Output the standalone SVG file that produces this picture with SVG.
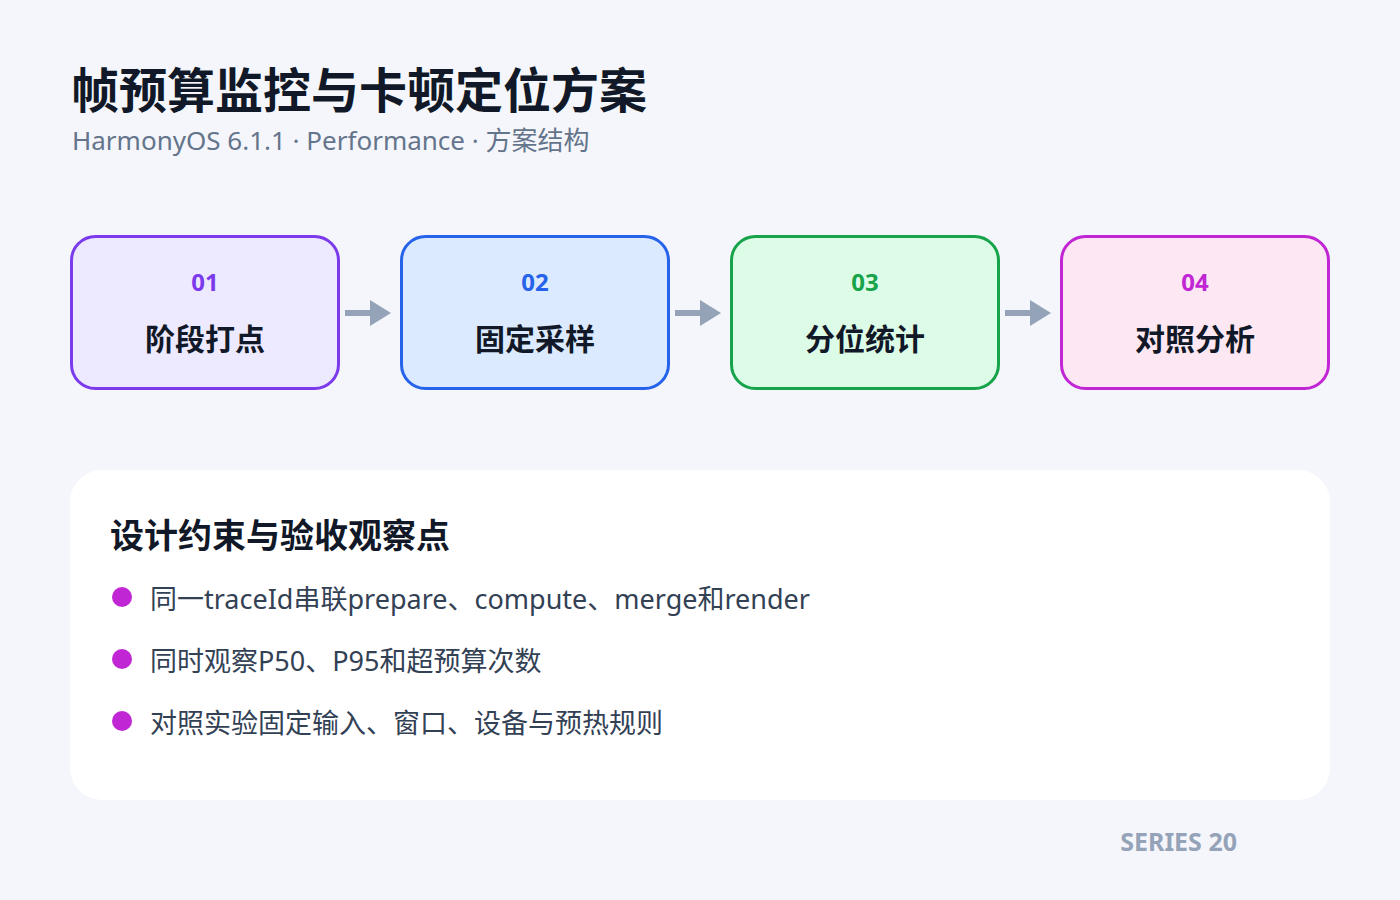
<svg xmlns="http://www.w3.org/2000/svg" width="1400" height="900" viewBox="0 0 1400 900">
<defs>
<style>
.cjk{font-family:"Noto Sans","Noto Sans CJK SC",sans-serif;}
.title{font-size:48px;font-weight:700;fill:#111827;}
.sub{font-size:26px;fill:#64748b;}
.box{stroke-width:3;}
.num{font-size:24px;font-weight:700;text-anchor:middle;}
.lbl{font-size:30px;font-weight:700;fill:#111827;text-anchor:middle;}
.conn{stroke:#94a3b8;stroke-width:6;fill:none;}
.head{fill:#94a3b8;}
.h2{font-size:34px;font-weight:700;fill:#111827;}
.item{font-size:27px;fill:#334155;}
.dot{fill:#c026d3;}
.foot{font-size:25px;font-weight:700;fill:#94a3b8;}
</style>
</defs>
<rect width="1400" height="900" fill="#f4f6fb"/>
<g id="header" class="cjk">
<text class="title" x="71" y="108">帧预算监控与卡顿定位方案</text>
<text class="sub" x="72" y="150">HarmonyOS 6.1.1 · Performance · 方案结构</text>
</g>
<g id="connectors">
<line class="conn" x1="345" y1="313" x2="372" y2="313"/>
<polygon class="head" points="370,300 391,313 370,326"/>
<line class="conn" x1="675" y1="313" x2="702" y2="313"/>
<polygon class="head" points="700,300 721,313 700,326"/>
<line class="conn" x1="1005" y1="313" x2="1032" y2="313"/>
<polygon class="head" points="1030,300 1051,313 1030,326"/>
</g>
<g id="node-01" class="cjk">
<rect class="box" x="71.5" y="236.5" width="267" height="152" rx="24" fill="#ede9fe" stroke="#7c3aed"/>
<text class="num" x="205" y="291" fill="#7c3aed">01</text>
<text class="lbl" x="205" y="350">阶段打点</text>
</g>
<g id="node-02" class="cjk">
<rect class="box" x="401.5" y="236.5" width="267" height="152" rx="24" fill="#dbeafe" stroke="#2563eb"/>
<text class="num" x="535" y="291" fill="#2563eb">02</text>
<text class="lbl" x="535" y="350">固定采样</text>
</g>
<g id="node-03" class="cjk">
<rect class="box" x="731.5" y="236.5" width="267" height="152" rx="24" fill="#dcfce7" stroke="#16a34a"/>
<text class="num" x="865" y="291" fill="#16a34a">03</text>
<text class="lbl" x="865" y="350">分位统计</text>
</g>
<g id="node-04" class="cjk">
<rect class="box" x="1061.5" y="236.5" width="267" height="152" rx="24" fill="#fce7f3" stroke="#c026d3"/>
<text class="num" x="1195" y="291" fill="#c026d3">04</text>
<text class="lbl" x="1195" y="350">对照分析</text>
</g>
<g id="panel" class="cjk">
<rect x="70" y="470" width="1260" height="330" rx="32" fill="#ffffff"/>
<text class="h2" x="110" y="548">设计约束与验收观察点</text>
<circle class="dot" cx="122" cy="597" r="10"/>
<text class="item" x="150" y="609">同一traceId串联prepare、compute、merge和render</text>
<circle class="dot" cx="122" cy="659" r="10"/>
<text class="item" x="150" y="671">同时观察P50、P95和超预算次数</text>
<circle class="dot" cx="122" cy="721" r="10"/>
<text class="item" x="150" y="733">对照实验固定输入、窗口、设备与预热规则</text>
</g>
<g id="footer" class="cjk">
<text class="foot" x="1237" y="851" text-anchor="end">SERIES 20</text>
</g>
</svg>
